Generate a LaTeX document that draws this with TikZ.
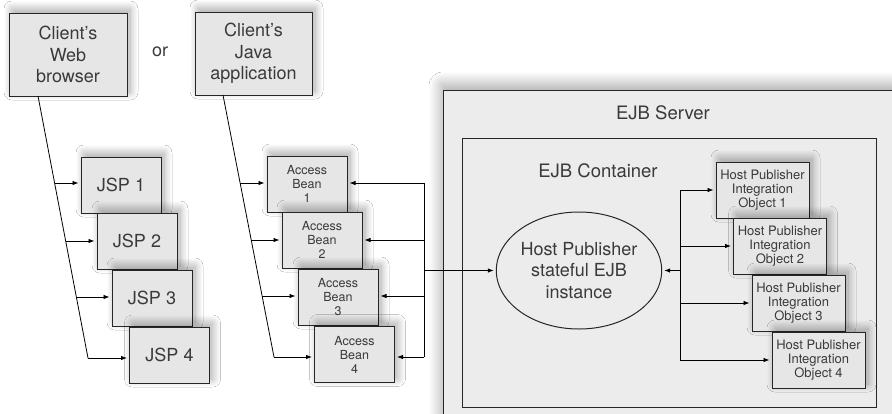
\documentclass[tikz,border=0pt]{standalone}
\usepackage{fontspec}
\setmainfont{TeX Gyre Heros}
\usetikzlibrary{arrows.meta,shapes.geometric,shadows.blur}
\definecolor{boxgray}{HTML}{E6E6E6}
\definecolor{srvgray}{HTML}{ECECEC}
\definecolor{txt}{HTML}{3A3A3A}
\begin{document}
\begin{tikzpicture}[x=1pt,y=-1pt,
  box/.style={draw=black!85, fill=boxgray, line width=1pt, inner sep=0pt, align=center, text=txt,
    blur shadow={shadow xshift=3pt, shadow yshift=4pt, shadow blur steps=16, shadow blur radius=8pt, shadow opacity=35}},
  bigtxt/.style={font=\fontsize{18}{21.7}\selectfont},
  smalltxt/.style={font=\fontsize{12.5}{14}\selectfont},
  hptxt/.style={font=\fontsize{13}{14.3}\selectfont},
  jsp/.style={box, bigtxt, minimum width=80pt, minimum height=56pt},
  ab/.style={box, smalltxt, minimum width=80pt, minimum height=56pt},
  hp/.style={box, hptxt, minimum width=93pt, minimum height=56pt},
  conn/.style={draw=black, line width=0.8pt},
  arr/.style={conn, -{Latex[length=6pt,width=4.5pt]}, shorten >=2pt}]
\useasboundingbox (0,0) rectangle (892,413);
\fill[white] (0,0) rectangle (892,413);
\begin{scope}
\clip (0,0) rectangle (892,413);
% EJB server
\node[draw=black!85, fill=srvgray, line width=1pt, minimum width=460pt, minimum height=330pt, inner sep=0pt,
  blur shadow={shadow xshift=0pt, shadow yshift=4pt, shadow blur steps=20, shadow blur radius=14pt, shadow opacity=40}]
  (server) at (673,255) {};
\node[font=\fontsize{18.5}{22}\selectfont, text=txt] (srvlbl) at (663,113) {EJB Server};
\node[draw=black!85, fill=srvgray, line width=1pt, minimum width=414pt, minimum height=269pt, inner sep=0pt]
  (cont) at (669,272.5) {};
\end{scope}
\node[font=\fontsize{18.5}{22}\selectfont, text=txt] (contlbl) at (598,171) {EJB Container};

% Clients
\node[box, bigtxt, minimum width=118pt, minimum height=83pt] (web) at (68,54.5) {Client's\\Web\\browser};
\node[bigtxt, text=txt] (or) at (160,52) {or};
\node[box, bigtxt, minimum width=117pt, minimum height=83pt] (java) at (253.5,53.5) {Client's\\Java\\application};

% JSPs
\node[jsp] (jsp1) at (121,185) {JSP 1};
\node[jsp] (jsp2) at (137,241) {JSP 2};
\node[jsp] (jsp3) at (152,298) {JSP 3};
\node[jsp] (jsp4) at (169.5,355) {JSP 4};

% Access beans
\node[ab] (ab1) at (307,184) {Access\\Bean\\1};
\node[ab] (ab2) at (322,240) {Access\\Bean\\2};
\node[ab] (ab3) at (338,297) {Access\\Bean\\3};
\node[ab] (ab4) at (354.5,354.5) {Access\\Bean\\4};

% Ellipse
\node[ellipse, draw=black!85, fill=srvgray, line width=1pt, minimum width=144pt, minimum height=117pt, inner sep=0pt,
  align=center, text=txt, bigtxt] (ejb) at (579,270.5) {Host Publisher\\stateful EJB\\instance};

% HPIOs
\node[hp] (hp1) at (762.5,190) {Host Publisher\\Integration\\Object 1};
\node[hp] (hp2) at (780,246) {Host Publisher\\Integration\\Object 2};
\node[hp] (hp3) at (798.5,303) {Host Publisher\\Integration\\Object 3};
\node[hp] (hp4) at (818.5,360) {Host Publisher\\Integration\\Object 4};

% Web browser connectors
\coordinate (w0) at (38,96);
\coordinate (w1) at (54.6,183);
\coordinate (w2) at (65.7,241);
\coordinate (w3) at (76.4,297);
\coordinate (w4) at (88,358);
\draw[conn] (w0) -- (w4);
\draw[arr] (w1) -- (w1 -| jsp1.west);
\draw[arr] (w2) -- (w2 -| jsp2.west);
\draw[arr] (w3) -- (w3 -| jsp3.west);
\draw[arr] (w4) -- (w4 -| jsp4.west);

% Java connectors
\coordinate (j0) at (223,95);
\coordinate (j1) at (240.1,183);
\coordinate (j2) at (251.2,240);
\coordinate (j3) at (262.1,296);
\coordinate (j4) at (274,357);
\draw[conn] (j0) -- (j4);
\draw[arr] (j1) -- (j1 -| ab1.west);
\draw[arr] (j2) -- (j2 -| ab2.west);
\draw[arr] (j3) -- (j3 -| ab3.west);
\draw[arr] (j4) -- (j4 -| ab4.west);

% Right side of access beans
\coordinate (r1) at (424,183);
\coordinate (r2) at (424,240);
\coordinate (r3) at (424,296);
\coordinate (r4) at (424,357);
\coordinate (rm) at (424,270.5);
\draw[conn] (r1) -- (r4);
\draw[arr] (r1) -- (r1 -| ab1.east);
\draw[arr] (r2) -- (r2 -| ab2.east);
\draw[arr] (r3) -- (r3 -| ab3.east);
\draw[arr] (r4) -- (r4 -| ab4.east);
\draw[arr] (rm) -- (ejb.west);

% Right side of EJB
\coordinate (h1) at (680,190);
\coordinate (h2) at (680,246);
\coordinate (h3) at (680,303);
\coordinate (h4) at (680,360);
\coordinate (hm) at (680,270.5);
\draw[conn] (h1) -- (h4);
\draw[arr] (h1) -- (hp1.west);
\draw[arr] (h2) -- (hp2.west);
\draw[arr] (h3) -- (hp3.west);
\draw[arr] (h4) -- (hp4.west);
\draw[arr] (hm) -- (ejb.east);
\end{tikzpicture}
\end{document}
